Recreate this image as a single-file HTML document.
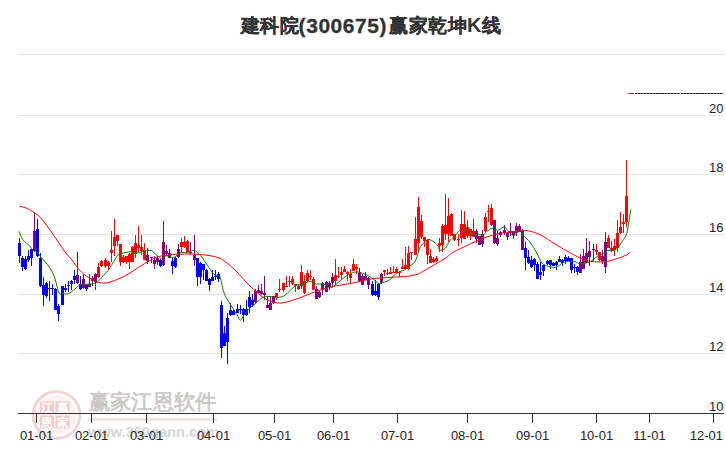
<!DOCTYPE html>
<html><head><meta charset="utf-8"><style>
html,body{margin:0;padding:0;background:#fff;width:726px;height:450px;overflow:hidden;position:relative}
.t{position:absolute;left:239.5px;top:8px;white-space:nowrap;font-family:"Liberation Sans",sans-serif;font-weight:bold;font-size:20px;color:#333;line-height:34px}
.l{letter-spacing:0.55px;font-size:21px;position:relative;top:0.7px;-webkit-text-stroke:0.3px #333;margin-right:1px}
.c{-webkit-text-stroke:0.2px #333;position:relative;top:0.1px;left:1px;font-size:19.3px;letter-spacing:0.7px}
</style></head><body>
<svg width="726" height="450" viewBox="0 0 726 450" style="position:absolute;left:0;top:0"><rect x="18" y="54" width="706" height="1" fill="#e3e3e3"/><rect x="18" y="115" width="706" height="1" fill="#e3e3e3"/><rect x="18" y="174" width="706" height="1" fill="#e3e3e3"/><rect x="18" y="234" width="706" height="1" fill="#e3e3e3"/><rect x="18" y="294" width="706" height="1" fill="#e3e3e3"/><rect x="18" y="353" width="706" height="1" fill="#e3e3e3"/><g>
<circle cx="56.5" cy="415" r="25" fill="#fcf1f1"/>
<circle cx="56.5" cy="415" r="23.5" fill="none" stroke="#f1d2d2" stroke-width="2.5"/>
<circle cx="56.5" cy="415" r="20.5" fill="none" stroke="#ffffff" stroke-width="1.5"/>
<rect x="40" y="401.5" width="14" height="11.5" fill="#efcaca"/>
<rect x="55.5" y="401.5" width="14" height="11.5" fill="#efcaca"/>
<rect x="40" y="415.5" width="14" height="13" fill="#efcaca"/>
<rect x="55.5" y="415.5" width="14" height="13" fill="#efcaca"/>
<text x="47" y="412" font-family="Liberation Sans, sans-serif" font-size="12" fill="#ffffff" text-anchor="middle" font-weight="bold">江</text>
<text x="62.5" y="412" font-family="Liberation Sans, sans-serif" font-size="12" fill="#ffffff" text-anchor="middle" font-weight="bold">赢</text>
<text x="47" y="427" font-family="Liberation Sans, sans-serif" font-size="12" fill="#ffffff" text-anchor="middle" font-weight="bold">恩</text>
<text x="62.5" y="427" font-family="Liberation Sans, sans-serif" font-size="12" fill="#ffffff" text-anchor="middle" font-weight="bold">家</text>
<text x="88.5" y="409" font-family="Liberation Sans, sans-serif" font-size="20.5" fill="#cbc5c5" stroke="#cbc5c5" stroke-width="0.6" textLength="128" lengthAdjust="spacingAndGlyphs">赢家江恩软件</text>
<rect x="88" y="418.5" width="129" height="2" fill="#eed8d8"/>
<text x="88" y="436.5" font-family="Liberation Sans, sans-serif" font-size="15.5" font-weight="bold" fill="#d5d5d5" textLength="131" lengthAdjust="spacingAndGlyphs">www.360gann.com</text>
</g><rect x="18" y="413" width="706" height="1" fill="#333"/><rect x="36" y="413" width="1" height="10" fill="#333"/><text x="36.5" y="439.5" font-family="Liberation Sans, sans-serif" font-size="13" fill="#222" text-anchor="middle">01-01</text><rect x="91" y="413" width="1" height="10" fill="#333"/><text x="91.5" y="439.5" font-family="Liberation Sans, sans-serif" font-size="13" fill="#222" text-anchor="middle">02-01</text><rect x="146" y="413" width="1" height="10" fill="#333"/><text x="146.5" y="439.5" font-family="Liberation Sans, sans-serif" font-size="13" fill="#222" text-anchor="middle">03-01</text><rect x="213" y="413" width="1" height="10" fill="#333"/><text x="213.5" y="439.5" font-family="Liberation Sans, sans-serif" font-size="13" fill="#222" text-anchor="middle">04-01</text><rect x="274" y="413" width="1" height="10" fill="#333"/><text x="274.5" y="439.5" font-family="Liberation Sans, sans-serif" font-size="13" fill="#222" text-anchor="middle">05-01</text><rect x="333" y="413" width="1" height="10" fill="#333"/><text x="333.5" y="439.5" font-family="Liberation Sans, sans-serif" font-size="13" fill="#222" text-anchor="middle">06-01</text><rect x="397" y="413" width="1" height="10" fill="#333"/><text x="397.5" y="439.5" font-family="Liberation Sans, sans-serif" font-size="13" fill="#222" text-anchor="middle">07-01</text><rect x="467" y="413" width="1" height="10" fill="#333"/><text x="467.5" y="439.5" font-family="Liberation Sans, sans-serif" font-size="13" fill="#222" text-anchor="middle">08-01</text><rect x="532" y="413" width="1" height="10" fill="#333"/><text x="532.5" y="439.5" font-family="Liberation Sans, sans-serif" font-size="13" fill="#222" text-anchor="middle">09-01</text><rect x="596" y="413" width="1" height="10" fill="#333"/><text x="596.5" y="439.5" font-family="Liberation Sans, sans-serif" font-size="13" fill="#222" text-anchor="middle">10-01</text><rect x="649" y="413" width="1" height="10" fill="#333"/><text x="649.5" y="439.5" font-family="Liberation Sans, sans-serif" font-size="13" fill="#222" text-anchor="middle">11-01</text><rect x="713" y="413" width="1" height="10" fill="#333"/><text x="723" y="439.5" font-family="Liberation Sans, sans-serif" font-size="13" fill="#222" text-anchor="end">12-01</text><text x="723.5" y="113" font-family="Liberation Sans, sans-serif" font-size="13" fill="#222" text-anchor="end">20</text><text x="723.5" y="172" font-family="Liberation Sans, sans-serif" font-size="13" fill="#222" text-anchor="end">18</text><text x="723.5" y="232" font-family="Liberation Sans, sans-serif" font-size="13" fill="#222" text-anchor="end">16</text><text x="723.5" y="292" font-family="Liberation Sans, sans-serif" font-size="13" fill="#222" text-anchor="end">14</text><text x="723.5" y="351" font-family="Liberation Sans, sans-serif" font-size="13" fill="#222" text-anchor="end">12</text><text x="723.5" y="411" font-family="Liberation Sans, sans-serif" font-size="13" fill="#222" text-anchor="end">10</text><rect x="628" y="93" width="3" height="1" fill="#ff0000"/><rect x="631" y="93" width="3" height="1" fill="#333"/><rect x="635" y="93" width="45" height="1" fill="#666"/><rect x="681" y="93" width="42" height="1" fill="#666"/><line x1="635" y1="93.5" x2="680" y2="93.5" stroke="#111" stroke-width="1" stroke-dasharray="2 1"/><line x1="681" y1="93.5" x2="723" y2="93.5" stroke="#111" stroke-width="1" stroke-dasharray="2 1"/><rect x="19" y="238" width="1" height="25" fill="#0000ff"/><rect x="18" y="243" width="3" height="13" fill="#0000ff"/><rect x="22" y="256" width="1" height="15" fill="#0000ff"/><rect x="21" y="258" width="3" height="9" fill="#0000ff"/><rect x="25" y="256" width="1" height="14" fill="#0000ff"/><rect x="24" y="259" width="3" height="10" fill="#0000ff"/><rect x="28" y="250" width="1" height="12" fill="#0000ff"/><rect x="27" y="256" width="3" height="4" fill="#0000ff"/><rect x="31" y="249" width="1" height="17" fill="#0000ff"/><rect x="30" y="249" width="3" height="9" fill="#0000ff"/><rect x="34" y="213" width="1" height="39" fill="#800080"/><rect x="33" y="231" width="3" height="20" fill="#800080"/><rect x="37" y="219" width="1" height="38" fill="#0000ff"/><rect x="36" y="229" width="3" height="27" fill="#0000ff"/><rect x="40" y="253" width="1" height="34" fill="#0000ff"/><rect x="39" y="258" width="3" height="28" fill="#0000ff"/><rect x="43" y="277" width="1" height="29" fill="#0000ff"/><rect x="42" y="285" width="3" height="10" fill="#0000ff"/><rect x="46" y="282" width="1" height="16" fill="#0000ff"/><rect x="45" y="283" width="3" height="13" fill="#0000ff"/><rect x="49" y="281" width="1" height="20" fill="#0000ff"/><rect x="48" y="288" width="3" height="1" fill="#0000ff"/><rect x="52" y="284" width="1" height="11" fill="#0000ff"/><rect x="51" y="288" width="3" height="1" fill="#0000ff"/><rect x="55" y="288" width="1" height="22" fill="#0000ff"/><rect x="54" y="289" width="3" height="21" fill="#0000ff"/><rect x="58" y="304" width="1" height="17" fill="#0000ff"/><rect x="57" y="306" width="3" height="8" fill="#0000ff"/><rect x="62" y="286" width="1" height="19" fill="#0000ff"/><rect x="61" y="286" width="3" height="19" fill="#0000ff"/><rect x="65" y="284" width="1" height="8" fill="#0000ff"/><rect x="64" y="288" width="3" height="2" fill="#0000ff"/><rect x="68" y="281" width="1" height="11" fill="#0000ff"/><rect x="67" y="285" width="3" height="1" fill="#0000ff"/><rect x="71" y="280" width="1" height="10" fill="#0000ff"/><rect x="70" y="281" width="3" height="3" fill="#0000ff"/><rect x="74" y="270" width="1" height="14" fill="#0000ff"/><rect x="73" y="276" width="3" height="4" fill="#0000ff"/><rect x="77" y="252" width="1" height="32" fill="#800080"/><rect x="76" y="275" width="3" height="8" fill="#800080"/><rect x="80" y="276" width="1" height="14" fill="#0000ff"/><rect x="79" y="284" width="3" height="5" fill="#0000ff"/><rect x="83" y="274" width="1" height="15" fill="#800080"/><rect x="82" y="279" width="3" height="9" fill="#800080"/><rect x="86" y="284" width="1" height="7" fill="#0000ff"/><rect x="85" y="285" width="3" height="4" fill="#0000ff"/><rect x="89" y="274" width="1" height="13" fill="#800080"/><rect x="88" y="284" width="3" height="3" fill="#800080"/><rect x="92" y="276" width="1" height="10" fill="#800080"/><rect x="91" y="278" width="3" height="3" fill="#800080"/><rect x="95" y="273" width="1" height="17" fill="#800080"/><rect x="94" y="274" width="3" height="8" fill="#800080"/><rect x="98" y="263" width="1" height="15" fill="#ff0000"/><rect x="97" y="267" width="3" height="10" fill="#ff0000"/><rect x="101" y="260" width="1" height="7" fill="#ff0000"/><rect x="100" y="261" width="3" height="5" fill="#ff0000"/><rect x="105" y="258" width="1" height="10" fill="#ff0000"/><rect x="104" y="260" width="3" height="6" fill="#ff0000"/><rect x="108" y="261" width="1" height="9" fill="#ff0000"/><rect x="107" y="262" width="3" height="4" fill="#ff0000"/><rect x="111" y="231" width="1" height="31" fill="#ff0000"/><rect x="110" y="250" width="3" height="3" fill="#ff0000"/><rect x="114" y="219" width="1" height="37" fill="#ff0000"/><rect x="113" y="237" width="3" height="9" fill="#ff0000"/><rect x="117" y="235" width="1" height="11" fill="#ff0000"/><rect x="116" y="235" width="3" height="6" fill="#ff0000"/><rect x="120" y="244" width="1" height="22" fill="#ff0000"/><rect x="119" y="244" width="3" height="18" fill="#ff0000"/><rect x="123" y="255" width="1" height="8" fill="#ff0000"/><rect x="122" y="257" width="3" height="5" fill="#ff0000"/><rect x="126" y="256" width="1" height="8" fill="#ff0000"/><rect x="125" y="256" width="3" height="6" fill="#ff0000"/><rect x="129" y="253" width="1" height="16" fill="#ff0000"/><rect x="128" y="254" width="3" height="8" fill="#ff0000"/><rect x="132" y="246" width="1" height="16" fill="#ff0000"/><rect x="131" y="247" width="3" height="15" fill="#ff0000"/><rect x="135" y="235" width="1" height="23" fill="#ff0000"/><rect x="134" y="243" width="3" height="11" fill="#ff0000"/><rect x="138" y="226" width="1" height="26" fill="#ff0000"/><rect x="137" y="245" width="3" height="3" fill="#ff0000"/><rect x="141" y="235" width="1" height="20" fill="#ff0000"/><rect x="140" y="247" width="3" height="4" fill="#ff0000"/><rect x="144" y="243" width="1" height="17" fill="#ff0000"/><rect x="143" y="250" width="3" height="10" fill="#ff0000"/><rect x="147" y="248" width="1" height="16" fill="#800080"/><rect x="146" y="255" width="3" height="6" fill="#800080"/><rect x="151" y="257" width="1" height="6" fill="#800080"/><rect x="150" y="257" width="3" height="1" fill="#800080"/><rect x="154" y="256" width="1" height="13" fill="#800080"/><rect x="153" y="260" width="3" height="4" fill="#800080"/><rect x="157" y="256" width="1" height="9" fill="#800080"/><rect x="156" y="258" width="3" height="4" fill="#800080"/><rect x="160" y="259" width="1" height="8" fill="#0000ff"/><rect x="159" y="260" width="3" height="6" fill="#0000ff"/><rect x="163" y="221" width="1" height="45" fill="#800080"/><rect x="162" y="242" width="3" height="23" fill="#800080"/><rect x="166" y="245" width="1" height="11" fill="#800080"/><rect x="165" y="251" width="3" height="3" fill="#800080"/><rect x="169" y="249" width="1" height="9" fill="#800080"/><rect x="168" y="253" width="3" height="5" fill="#800080"/><rect x="172" y="258" width="1" height="16" fill="#0000ff"/><rect x="171" y="261" width="3" height="5" fill="#0000ff"/><rect x="175" y="257" width="1" height="11" fill="#0000ff"/><rect x="174" y="258" width="3" height="9" fill="#0000ff"/><rect x="178" y="244" width="1" height="14" fill="#800080"/><rect x="177" y="249" width="3" height="8" fill="#800080"/><rect x="181" y="238" width="1" height="14" fill="#ff0000"/><rect x="180" y="242" width="3" height="5" fill="#ff0000"/><rect x="184" y="236" width="1" height="12" fill="#ff0000"/><rect x="183" y="242" width="3" height="5" fill="#ff0000"/><rect x="187" y="240" width="1" height="12" fill="#ff0000"/><rect x="186" y="241" width="3" height="11" fill="#ff0000"/><rect x="190" y="242" width="1" height="13" fill="#800080"/><rect x="189" y="252" width="3" height="1" fill="#800080"/><rect x="194" y="235" width="1" height="31" fill="#800080"/><rect x="193" y="255" width="3" height="5" fill="#800080"/><rect x="197" y="258" width="1" height="28" fill="#0000ff"/><rect x="196" y="258" width="3" height="19" fill="#0000ff"/><rect x="200" y="262" width="1" height="22" fill="#0000ff"/><rect x="199" y="263" width="3" height="14" fill="#0000ff"/><rect x="203" y="264" width="1" height="16" fill="#0000ff"/><rect x="202" y="264" width="3" height="6" fill="#0000ff"/><rect x="206" y="269" width="1" height="12" fill="#0000ff"/><rect x="205" y="270" width="3" height="11" fill="#0000ff"/><rect x="209" y="278" width="1" height="13" fill="#0000ff"/><rect x="208" y="279" width="3" height="6" fill="#0000ff"/><rect x="212" y="270" width="1" height="11" fill="#0000ff"/><rect x="211" y="277" width="3" height="4" fill="#0000ff"/><rect x="215" y="270" width="1" height="10" fill="#0000ff"/><rect x="214" y="276" width="3" height="1" fill="#0000ff"/><rect x="218" y="272" width="1" height="10" fill="#0000ff"/><rect x="217" y="274" width="3" height="5" fill="#0000ff"/><rect x="221" y="301" width="1" height="57" fill="#0000ff"/><rect x="220" y="305" width="3" height="43" fill="#0000ff"/><rect x="224" y="326" width="1" height="20" fill="#0000ff"/><rect x="223" y="333" width="3" height="13" fill="#0000ff"/><rect x="227" y="313" width="1" height="51" fill="#0000ff"/><rect x="226" y="318" width="3" height="24" fill="#0000ff"/><rect x="230" y="303" width="1" height="13" fill="#0000ff"/><rect x="229" y="310" width="3" height="5" fill="#0000ff"/><rect x="233" y="310" width="1" height="5" fill="#0000ff"/><rect x="232" y="311" width="3" height="4" fill="#0000ff"/><rect x="237" y="304" width="1" height="9" fill="#0000ff"/><rect x="236" y="309" width="3" height="4" fill="#0000ff"/><rect x="240" y="305" width="1" height="9" fill="#0000ff"/><rect x="239" y="309" width="3" height="1" fill="#0000ff"/><rect x="243" y="308" width="1" height="14" fill="#0000ff"/><rect x="242" y="309" width="3" height="6" fill="#0000ff"/><rect x="246" y="300" width="1" height="16" fill="#0000ff"/><rect x="245" y="309" width="3" height="6" fill="#0000ff"/><rect x="249" y="291" width="1" height="22" fill="#0000ff"/><rect x="248" y="297" width="3" height="10" fill="#0000ff"/><rect x="252" y="294" width="1" height="13" fill="#0000ff"/><rect x="251" y="300" width="3" height="5" fill="#0000ff"/><rect x="255" y="289" width="1" height="15" fill="#800080"/><rect x="254" y="291" width="3" height="11" fill="#800080"/><rect x="258" y="285" width="1" height="9" fill="#800080"/><rect x="257" y="290" width="3" height="3" fill="#800080"/><rect x="261" y="284" width="1" height="11" fill="#800080"/><rect x="260" y="291" width="3" height="3" fill="#800080"/><rect x="264" y="276" width="1" height="24" fill="#800080"/><rect x="263" y="293" width="3" height="2" fill="#800080"/><rect x="267" y="296" width="1" height="12" fill="#800080"/><rect x="266" y="305" width="3" height="3" fill="#800080"/><rect x="270" y="296" width="1" height="14" fill="#800080"/><rect x="269" y="303" width="3" height="7" fill="#800080"/><rect x="273" y="296" width="1" height="8" fill="#800080"/><rect x="272" y="296" width="3" height="7" fill="#800080"/><rect x="276" y="293" width="1" height="7" fill="#ff0000"/><rect x="275" y="293" width="3" height="4" fill="#ff0000"/><rect x="279" y="279" width="1" height="13" fill="#ff0000"/><rect x="278" y="289" width="3" height="1" fill="#ff0000"/><rect x="283" y="283" width="1" height="9" fill="#ff0000"/><rect x="282" y="283" width="3" height="7" fill="#ff0000"/><rect x="286" y="276" width="1" height="11" fill="#ff0000"/><rect x="285" y="286" width="3" height="1" fill="#ff0000"/><rect x="289" y="276" width="1" height="11" fill="#ff0000"/><rect x="288" y="281" width="3" height="1" fill="#ff0000"/><rect x="292" y="276" width="1" height="9" fill="#ff0000"/><rect x="291" y="279" width="3" height="5" fill="#ff0000"/><rect x="295" y="284" width="1" height="8" fill="#ff0000"/><rect x="294" y="284" width="3" height="2" fill="#ff0000"/><rect x="298" y="284" width="1" height="6" fill="#ff0000"/><rect x="297" y="286" width="3" height="3" fill="#ff0000"/><rect x="301" y="265" width="1" height="24" fill="#ff0000"/><rect x="300" y="272" width="3" height="14" fill="#ff0000"/><rect x="304" y="275" width="1" height="19" fill="#ff0000"/><rect x="303" y="281" width="3" height="12" fill="#ff0000"/><rect x="307" y="270" width="1" height="12" fill="#ff0000"/><rect x="306" y="273" width="3" height="8" fill="#ff0000"/><rect x="310" y="270" width="1" height="10" fill="#ff0000"/><rect x="309" y="276" width="3" height="1" fill="#ff0000"/><rect x="313" y="277" width="1" height="13" fill="#ff0000"/><rect x="312" y="279" width="3" height="11" fill="#ff0000"/><rect x="316" y="286" width="1" height="13" fill="#800080"/><rect x="315" y="289" width="3" height="10" fill="#800080"/><rect x="319" y="291" width="1" height="7" fill="#800080"/><rect x="318" y="292" width="3" height="5" fill="#800080"/><rect x="322" y="282" width="1" height="13" fill="#800080"/><rect x="321" y="283" width="3" height="7" fill="#800080"/><rect x="326" y="281" width="1" height="11" fill="#800080"/><rect x="325" y="282" width="3" height="10" fill="#800080"/><rect x="329" y="281" width="1" height="9" fill="#800080"/><rect x="328" y="283" width="3" height="4" fill="#800080"/><rect x="332" y="273" width="1" height="14" fill="#800080"/><rect x="331" y="277" width="3" height="6" fill="#800080"/><rect x="335" y="259" width="1" height="26" fill="#ff0000"/><rect x="334" y="275" width="3" height="6" fill="#ff0000"/><rect x="338" y="267" width="1" height="11" fill="#ff0000"/><rect x="337" y="276" width="3" height="1" fill="#ff0000"/><rect x="341" y="267" width="1" height="12" fill="#ff0000"/><rect x="340" y="272" width="3" height="3" fill="#ff0000"/><rect x="344" y="266" width="1" height="6" fill="#ff0000"/><rect x="343" y="269" width="3" height="3" fill="#ff0000"/><rect x="347" y="271" width="1" height="10" fill="#ff0000"/><rect x="346" y="272" width="3" height="2" fill="#ff0000"/><rect x="350" y="269" width="1" height="14" fill="#ff0000"/><rect x="349" y="274" width="3" height="4" fill="#ff0000"/><rect x="353" y="259" width="1" height="12" fill="#ff0000"/><rect x="352" y="264" width="3" height="7" fill="#ff0000"/><rect x="356" y="264" width="1" height="10" fill="#ff0000"/><rect x="355" y="267" width="3" height="2" fill="#ff0000"/><rect x="359" y="268" width="1" height="13" fill="#800080"/><rect x="358" y="273" width="3" height="8" fill="#800080"/><rect x="362" y="274" width="1" height="11" fill="#800080"/><rect x="361" y="276" width="3" height="9" fill="#800080"/><rect x="365" y="272" width="1" height="8" fill="#800080"/><rect x="364" y="276" width="3" height="4" fill="#800080"/><rect x="368" y="277" width="1" height="12" fill="#800080"/><rect x="367" y="278" width="3" height="7" fill="#800080"/><rect x="372" y="281" width="1" height="15" fill="#0000ff"/><rect x="371" y="284" width="3" height="11" fill="#0000ff"/><rect x="375" y="280" width="1" height="16" fill="#0000ff"/><rect x="374" y="291" width="3" height="4" fill="#0000ff"/><rect x="378" y="283" width="1" height="17" fill="#0000ff"/><rect x="377" y="284" width="3" height="13" fill="#0000ff"/><rect x="381" y="273" width="1" height="11" fill="#800080"/><rect x="380" y="274" width="3" height="9" fill="#800080"/><rect x="384" y="270" width="1" height="6" fill="#ff0000"/><rect x="383" y="270" width="3" height="2" fill="#ff0000"/><rect x="387" y="269" width="1" height="6" fill="#ff0000"/><rect x="386" y="273" width="3" height="1" fill="#ff0000"/><rect x="390" y="267" width="1" height="7" fill="#ff0000"/><rect x="389" y="272" width="3" height="2" fill="#ff0000"/><rect x="393" y="266" width="1" height="6" fill="#ff0000"/><rect x="392" y="272" width="3" height="1" fill="#ff0000"/><rect x="396" y="267" width="1" height="6" fill="#ff0000"/><rect x="395" y="269" width="3" height="4" fill="#ff0000"/><rect x="399" y="271" width="1" height="6" fill="#ff0000"/><rect x="398" y="272" width="3" height="1" fill="#ff0000"/><rect x="402" y="259" width="1" height="10" fill="#ff0000"/><rect x="401" y="267" width="3" height="2" fill="#ff0000"/><rect x="405" y="247" width="1" height="22" fill="#ff0000"/><rect x="404" y="265" width="3" height="4" fill="#ff0000"/><rect x="408" y="246" width="1" height="24" fill="#ff0000"/><rect x="407" y="253" width="3" height="16" fill="#ff0000"/><rect x="411" y="252" width="1" height="8" fill="#ff0000"/><rect x="410" y="252" width="3" height="1" fill="#ff0000"/><rect x="415" y="217" width="1" height="38" fill="#ff0000"/><rect x="414" y="239" width="3" height="16" fill="#ff0000"/><rect x="418" y="197" width="1" height="55" fill="#ff0000"/><rect x="417" y="207" width="3" height="36" fill="#ff0000"/><rect x="421" y="215" width="1" height="24" fill="#ff0000"/><rect x="420" y="221" width="3" height="16" fill="#ff0000"/><rect x="424" y="237" width="1" height="10" fill="#ff0000"/><rect x="423" y="237" width="3" height="4" fill="#ff0000"/><rect x="427" y="239" width="1" height="25" fill="#ff0000"/><rect x="426" y="240" width="3" height="15" fill="#ff0000"/><rect x="430" y="249" width="1" height="14" fill="#ff0000"/><rect x="429" y="256" width="3" height="7" fill="#ff0000"/><rect x="433" y="257" width="1" height="6" fill="#ff0000"/><rect x="432" y="259" width="3" height="3" fill="#ff0000"/><rect x="436" y="256" width="1" height="6" fill="#ff0000"/><rect x="435" y="258" width="3" height="3" fill="#ff0000"/><rect x="439" y="238" width="1" height="14" fill="#ff0000"/><rect x="438" y="243" width="3" height="3" fill="#ff0000"/><rect x="442" y="224" width="1" height="28" fill="#ff0000"/><rect x="441" y="226" width="3" height="19" fill="#ff0000"/><rect x="445" y="194" width="1" height="46" fill="#ff0000"/><rect x="444" y="225" width="3" height="9" fill="#ff0000"/><rect x="448" y="198" width="1" height="44" fill="#ff0000"/><rect x="447" y="216" width="3" height="18" fill="#ff0000"/><rect x="451" y="213" width="1" height="23" fill="#ff0000"/><rect x="450" y="214" width="3" height="22" fill="#ff0000"/><rect x="454" y="234" width="1" height="7" fill="#ff0000"/><rect x="453" y="234" width="3" height="6" fill="#ff0000"/><rect x="458" y="234" width="1" height="12" fill="#ff0000"/><rect x="457" y="239" width="3" height="1" fill="#ff0000"/><rect x="461" y="210" width="1" height="33" fill="#ff0000"/><rect x="460" y="224" width="3" height="14" fill="#ff0000"/><rect x="464" y="211" width="1" height="28" fill="#ff0000"/><rect x="463" y="224" width="3" height="15" fill="#ff0000"/><rect x="467" y="220" width="1" height="18" fill="#ff0000"/><rect x="466" y="227" width="3" height="9" fill="#ff0000"/><rect x="470" y="229" width="1" height="11" fill="#ff0000"/><rect x="469" y="229" width="3" height="7" fill="#ff0000"/><rect x="473" y="219" width="1" height="18" fill="#ff0000"/><rect x="472" y="231" width="3" height="6" fill="#ff0000"/><rect x="476" y="229" width="1" height="14" fill="#800080"/><rect x="475" y="231" width="3" height="8" fill="#800080"/><rect x="479" y="236" width="1" height="9" fill="#800080"/><rect x="478" y="236" width="3" height="9" fill="#800080"/><rect x="482" y="230" width="1" height="17" fill="#800080"/><rect x="481" y="234" width="3" height="10" fill="#800080"/><rect x="485" y="213" width="1" height="19" fill="#ff0000"/><rect x="484" y="217" width="3" height="14" fill="#ff0000"/><rect x="488" y="205" width="1" height="17" fill="#ff0000"/><rect x="487" y="211" width="3" height="1" fill="#ff0000"/><rect x="491" y="204" width="1" height="22" fill="#ff0000"/><rect x="490" y="208" width="3" height="17" fill="#ff0000"/><rect x="494" y="220" width="1" height="24" fill="#800080"/><rect x="493" y="220" width="3" height="23" fill="#800080"/><rect x="497" y="231" width="1" height="15" fill="#800080"/><rect x="496" y="238" width="3" height="6" fill="#800080"/><rect x="500" y="231" width="1" height="6" fill="#800080"/><rect x="499" y="232" width="3" height="3" fill="#800080"/><rect x="504" y="225" width="1" height="10" fill="#800080"/><rect x="503" y="230" width="3" height="3" fill="#800080"/><rect x="507" y="232" width="1" height="8" fill="#800080"/><rect x="506" y="233" width="3" height="4" fill="#800080"/><rect x="510" y="223" width="1" height="13" fill="#800080"/><rect x="509" y="231" width="3" height="2" fill="#800080"/><rect x="513" y="231" width="1" height="8" fill="#800080"/><rect x="512" y="231" width="3" height="4" fill="#800080"/><rect x="516" y="223" width="1" height="13" fill="#800080"/><rect x="515" y="226" width="3" height="7" fill="#800080"/><rect x="519" y="224" width="1" height="8" fill="#800080"/><rect x="518" y="226" width="3" height="6" fill="#800080"/><rect x="522" y="229" width="1" height="21" fill="#800080"/><rect x="521" y="231" width="3" height="19" fill="#800080"/><rect x="525" y="242" width="1" height="28" fill="#0000ff"/><rect x="524" y="248" width="3" height="10" fill="#0000ff"/><rect x="528" y="250" width="1" height="14" fill="#0000ff"/><rect x="527" y="257" width="3" height="6" fill="#0000ff"/><rect x="531" y="256" width="1" height="12" fill="#0000ff"/><rect x="530" y="260" width="3" height="7" fill="#0000ff"/><rect x="534" y="258" width="1" height="13" fill="#0000ff"/><rect x="533" y="259" width="3" height="6" fill="#0000ff"/><rect x="537" y="262" width="1" height="17" fill="#0000ff"/><rect x="536" y="264" width="3" height="15" fill="#0000ff"/><rect x="540" y="262" width="1" height="18" fill="#0000ff"/><rect x="539" y="272" width="3" height="3" fill="#0000ff"/><rect x="543" y="265" width="1" height="11" fill="#0000ff"/><rect x="542" y="265" width="3" height="6" fill="#0000ff"/><rect x="547" y="260" width="1" height="5" fill="#0000ff"/><rect x="546" y="261" width="3" height="3" fill="#0000ff"/><rect x="550" y="260" width="1" height="9" fill="#0000ff"/><rect x="549" y="260" width="3" height="5" fill="#0000ff"/><rect x="553" y="262" width="1" height="4" fill="#0000ff"/><rect x="552" y="263" width="3" height="3" fill="#0000ff"/><rect x="556" y="261" width="1" height="9" fill="#0000ff"/><rect x="555" y="262" width="3" height="3" fill="#0000ff"/><rect x="559" y="256" width="1" height="6" fill="#0000ff"/><rect x="558" y="259" width="3" height="3" fill="#0000ff"/><rect x="562" y="259" width="1" height="7" fill="#0000ff"/><rect x="561" y="260" width="3" height="3" fill="#0000ff"/><rect x="565" y="255" width="1" height="9" fill="#0000ff"/><rect x="564" y="257" width="3" height="4" fill="#0000ff"/><rect x="568" y="256" width="1" height="5" fill="#0000ff"/><rect x="567" y="258" width="3" height="3" fill="#0000ff"/><rect x="571" y="258" width="1" height="15" fill="#0000ff"/><rect x="570" y="258" width="3" height="12" fill="#0000ff"/><rect x="574" y="264" width="1" height="9" fill="#0000ff"/><rect x="573" y="267" width="3" height="1" fill="#0000ff"/><rect x="577" y="266" width="1" height="9" fill="#0000ff"/><rect x="576" y="267" width="3" height="5" fill="#0000ff"/><rect x="580" y="254" width="1" height="19" fill="#800080"/><rect x="579" y="262" width="3" height="11" fill="#800080"/><rect x="583" y="249" width="1" height="20" fill="#800080"/><rect x="582" y="256" width="3" height="13" fill="#800080"/><rect x="586" y="238" width="1" height="25" fill="#800080"/><rect x="585" y="253" width="3" height="10" fill="#800080"/><rect x="589" y="241" width="1" height="25" fill="#800080"/><rect x="588" y="251" width="3" height="6" fill="#800080"/><rect x="593" y="244" width="1" height="17" fill="#800080"/><rect x="592" y="249" width="3" height="1" fill="#800080"/><rect x="596" y="244" width="1" height="11" fill="#ff0000"/><rect x="595" y="250" width="3" height="2" fill="#ff0000"/><rect x="599" y="252" width="1" height="9" fill="#ff0000"/><rect x="598" y="252" width="3" height="8" fill="#ff0000"/><rect x="602" y="250" width="1" height="14" fill="#800080"/><rect x="601" y="256" width="3" height="5" fill="#800080"/><rect x="605" y="232" width="1" height="41" fill="#800080"/><rect x="604" y="242" width="3" height="25" fill="#800080"/><rect x="608" y="235" width="1" height="13" fill="#ff0000"/><rect x="607" y="238" width="3" height="10" fill="#ff0000"/><rect x="611" y="241" width="1" height="11" fill="#ff0000"/><rect x="610" y="248" width="3" height="2" fill="#ff0000"/><rect x="614" y="239" width="1" height="17" fill="#ff0000"/><rect x="613" y="246" width="3" height="4" fill="#ff0000"/><rect x="617" y="220" width="1" height="32" fill="#ff0000"/><rect x="616" y="233" width="3" height="15" fill="#ff0000"/><rect x="620" y="212" width="1" height="22" fill="#ff0000"/><rect x="619" y="227" width="3" height="6" fill="#ff0000"/><rect x="623" y="214" width="1" height="19" fill="#ff0000"/><rect x="622" y="222" width="3" height="2" fill="#ff0000"/><rect x="626" y="160" width="1" height="67" fill="#ff0000"/><rect x="625" y="196" width="3" height="26" fill="#ff0000"/><path d="M19.3,206.3 C20.4,206.6 23.6,206.9 26.2,208.0 C28.8,209.1 32.0,211.2 34.6,213.0 C37.2,214.8 38.8,215.6 41.8,219.1 C44.8,222.6 49.0,228.6 52.9,234.1 C56.8,239.6 61.9,247.7 65.1,252.0 C68.2,256.3 69.6,257.0 71.8,259.8 C74.0,262.6 76.2,266.1 78.4,268.7 C80.6,271.3 83.2,273.8 85.1,275.3 C87.0,276.9 87.8,276.9 89.8,278.0 C91.8,279.1 94.5,280.8 96.8,281.7 C99.1,282.6 101.4,283.0 103.4,283.1 C105.4,283.2 106.7,283.1 109.0,282.5 C111.3,281.9 114.8,280.4 117.3,279.4 C119.8,278.4 121.9,277.4 124.0,276.4 C126.1,275.3 127.9,274.4 130.0,273.1 C132.1,271.8 133.6,270.5 136.5,268.6 C139.4,266.8 143.9,263.9 147.3,262.0 C150.8,260.1 154.0,258.1 157.2,257.0 C160.4,255.9 162.5,255.9 166.3,255.4 C170.1,254.9 174.2,254.2 180.0,254.1 C185.8,253.9 194.6,253.9 200.8,254.5 C207.0,255.1 213.2,256.1 217.3,257.4 C221.4,258.6 222.5,259.7 225.6,262.0 C228.7,264.3 231.9,267.0 236.0,271.0 C240.1,275.0 245.3,281.5 250.0,286.0 C254.7,290.5 259.9,295.1 264.0,297.9 C268.1,300.6 271.4,301.7 274.8,302.5 C278.2,303.3 280.6,303.3 284.7,302.5 C288.8,301.7 295.4,299.3 299.6,297.9 C303.8,296.4 307.2,294.9 310.0,293.8 C312.8,292.7 313.3,292.6 316.4,291.5 C319.5,290.4 324.7,288.5 328.8,287.4 C332.9,286.3 337.1,285.8 341.2,285.0 C345.3,284.2 349.8,283.7 353.6,282.9 C357.4,282.1 360.5,281.1 364.0,280.4 C367.5,279.7 370.0,279.0 374.5,278.5 C379.0,278.0 385.5,277.7 391.0,277.3 C396.5,276.9 403.1,276.9 407.6,276.4 C412.1,275.8 415.8,274.6 418.0,274.0 C420.2,273.4 416.4,275.2 420.7,272.7 C425.0,270.2 438.6,262.5 444.0,259.1 C449.4,255.8 448.7,255.0 452.8,252.6 C456.9,250.2 463.8,247.0 468.7,244.7 C473.6,242.3 477.5,240.3 482.4,238.5 C487.3,236.7 494.4,234.7 498.0,233.7 C501.6,232.7 501.5,233.0 504.3,232.7 C507.1,232.4 511.4,232.1 514.7,231.7 C518.0,231.3 520.9,230.1 524.3,230.3 C527.7,230.5 532.0,231.6 535.3,232.7 C538.6,233.8 540.9,235.1 544.0,236.9 C547.1,238.7 549.7,240.8 554.0,243.4 C558.3,246.0 564.9,250.0 569.8,252.7 C574.7,255.4 580.1,258.1 583.5,259.5 C586.9,260.9 587.8,260.9 590.4,261.3 C593.0,261.7 596.3,261.9 599.1,261.9 C601.9,261.9 604.6,261.8 607.4,261.3 C610.2,260.8 613.5,259.8 615.8,259.1 C618.1,258.4 619.3,258.0 621.3,257.2 C623.3,256.4 626.5,255.0 628.0,254.1 C629.5,253.2 629.8,252.3 630.2,252.0" fill="none" stroke="#ff0000" stroke-width="1"/><path d="M19.0,231.3 C19.6,232.7 21.1,237.3 22.9,239.7 C24.7,242.1 27.9,244.1 29.6,245.8 C31.3,247.6 31.6,249.2 32.9,250.2 C34.2,251.2 35.9,250.6 37.3,251.9 C38.7,253.2 39.8,255.9 41.5,258.0 C43.2,260.1 45.4,261.7 47.3,264.2 C49.2,266.7 51.4,270.0 52.9,273.1 C54.4,276.2 55.2,279.8 56.2,283.1 C57.2,286.4 57.9,291.3 59.0,293.1 C60.1,294.9 61.3,293.6 62.9,293.7 C64.5,293.8 66.4,294.5 68.4,293.7 C70.4,292.9 73.1,290.5 75.0,289.0 C76.9,287.5 78.0,285.6 80.0,284.8 C82.0,284.0 85.0,284.5 87.0,284.3 C89.0,284.1 90.3,284.2 92.0,283.8 C93.7,283.4 95.1,283.6 97.0,282.2 C98.9,280.8 101.3,277.8 103.2,275.7 C105.1,273.6 106.8,272.3 108.6,269.9 C110.4,267.5 112.2,264.0 113.8,261.5 C115.3,259.0 116.7,256.3 117.9,254.9 C119.1,253.5 119.7,253.7 121.2,253.3 C122.7,252.9 125.1,252.6 127.0,252.3 C128.9,252.0 130.4,251.3 132.4,251.4 C134.4,251.5 137.2,253.1 139.0,253.0 C140.8,252.9 141.0,251.4 143.0,251.0 C145.0,250.6 149.4,250.3 151.0,250.4 C152.6,250.5 151.4,250.6 152.7,251.6 C153.9,252.6 157.1,255.4 158.5,256.5 C159.9,257.6 160.0,258.3 161.3,258.2 C162.6,258.1 164.2,255.9 166.3,255.8 C168.4,255.7 171.2,257.9 173.7,257.4 C176.1,256.8 178.7,253.3 181.0,252.5 C183.3,251.7 185.4,252.8 187.6,252.5 C189.8,252.2 192.0,249.8 194.2,250.4 C196.4,251.0 198.6,253.3 200.8,255.8 C203.0,258.3 205.2,262.2 207.4,265.3 C209.6,268.4 212.0,272.6 214.0,274.4 C216.0,276.2 218.3,274.7 219.6,276.1 C220.8,277.5 220.8,280.1 221.5,282.9 C222.2,285.7 223.0,290.0 224.0,292.9 C225.0,295.8 226.2,297.8 227.7,300.3 C229.1,302.8 231.1,305.4 232.7,307.8 C234.2,310.2 235.7,312.5 237.0,314.6 C238.3,316.7 239.2,320.1 240.4,320.2 C241.6,320.3 242.5,317.2 243.9,315.3 C245.3,313.4 247.0,310.9 248.8,309.0 C250.7,307.1 252.6,306.0 255.0,304.0 C257.4,302.0 260.9,298.2 263.5,297.0 C266.1,295.8 268.4,296.6 270.7,296.7 C273.0,296.8 274.9,297.8 277.3,297.5 C279.7,297.2 282.0,297.2 285.0,295.2 C288.0,293.2 292.8,287.4 295.5,285.6 C298.2,283.8 298.7,285.0 301.2,284.3 C303.7,283.6 308.1,281.5 310.6,281.5 C313.1,281.5 314.2,283.7 316.4,284.1 C318.6,284.5 321.6,283.7 323.8,284.1 C326.0,284.5 328.1,286.1 329.6,286.6 C331.1,287.1 331.4,287.8 332.9,287.0 C334.4,286.2 336.1,284.1 338.7,282.0 C341.2,279.9 345.2,276.4 348.2,274.7 C351.2,273.0 353.9,271.9 356.9,271.9 C359.9,271.9 363.6,273.6 366.3,274.8 C369.0,276.0 370.8,277.4 372.9,278.9 C375.0,280.3 377.0,282.9 378.7,283.5 C380.4,284.1 381.0,283.2 382.8,282.6 C384.6,282.1 387.5,281.5 389.4,280.2 C391.3,278.9 392.8,276.2 394.4,274.8 C396.0,273.4 397.7,272.7 399.3,271.9 C400.9,271.1 402.3,271.1 404.0,270.2 C405.7,269.3 407.8,267.8 409.6,266.3 C411.5,264.8 413.6,263.6 415.1,261.3 C416.6,259.0 417.5,254.8 418.4,252.4 C419.3,250.0 418.9,249.0 420.4,246.8 C421.9,244.7 425.3,240.4 427.4,239.5 C429.5,238.6 431.3,240.5 433.0,241.4 C434.7,242.3 436.2,243.6 437.4,245.0 C438.6,246.4 438.7,249.4 440.0,250.0 C441.3,250.6 443.9,249.6 445.3,248.3 C446.8,247.0 447.6,244.1 448.7,242.4 C449.8,240.7 451.1,239.3 452.0,238.3 C452.9,237.3 452.6,238.0 454.2,236.5 C455.8,235.0 459.3,230.1 461.4,229.2 C463.5,228.3 464.9,230.4 466.6,231.3 C468.3,232.2 469.7,234.1 471.4,234.4 C473.1,234.8 475.1,233.2 476.9,233.4 C478.7,233.6 480.8,235.7 482.4,235.4 C484.0,235.1 485.0,232.8 486.6,231.6 C488.2,230.4 490.2,228.4 492.1,228.2 C494.0,228.0 496.0,230.5 498.0,230.3 C500.0,230.1 502.7,226.8 504.3,226.9 C505.9,227.0 506.3,229.3 507.8,230.7 C509.3,232.1 511.6,235.3 513.3,235.5 C515.0,235.7 516.7,232.6 518.1,232.0 C519.5,231.4 520.5,231.3 521.5,232.0 C522.5,232.7 522.6,234.6 523.8,236.0 C524.9,237.4 526.8,238.4 528.4,240.3 C530.0,242.2 532.1,245.2 533.7,247.6 C535.3,250.0 536.5,252.6 537.8,255.0 C539.1,257.4 540.1,260.3 541.3,262.0 C542.5,263.7 542.7,264.1 545.0,265.0 C547.3,265.9 552.1,267.9 555.3,267.4 C558.5,266.9 561.0,263.2 564.0,262.2 C567.0,261.2 570.6,261.1 573.2,261.3 C575.8,261.5 577.1,263.4 579.8,263.5 C582.5,263.6 586.6,263.2 589.5,262.0 C592.4,260.8 594.5,258.2 597.3,256.5 C600.0,254.8 604.3,253.0 606.0,252.0 C607.7,251.0 605.9,250.9 607.4,250.6 C608.9,250.3 612.8,251.0 614.7,250.3 C616.6,249.7 617.3,248.2 618.6,246.7 C619.9,245.1 621.3,242.9 622.5,241.0 C623.7,239.1 625.0,238.0 626.0,235.5 C627.0,233.0 627.4,230.3 628.2,226.0 C629.0,221.7 630.4,212.2 630.8,209.4" fill="none" stroke="#008000" stroke-width="1"/></svg>
<div class="t"><span class="c">建科院</span><span class="l">(300675)</span><span class="c">赢家乾坤</span><span class="k">K</span><span class="c">线</span></div>
</body></html>
